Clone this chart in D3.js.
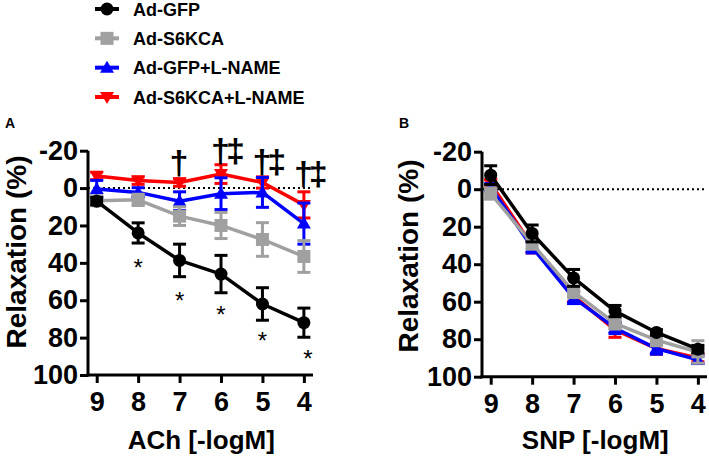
<!DOCTYPE html>
<html>
<head>
<meta charset="utf-8">
<script src="https://cdn.jsdelivr.net/npm/d3@7"></script>
<style>
  html, body { margin: 0; padding: 0; background: #fff; }
  svg { display: block; font-family: "Liberation Sans", Arial, sans-serif; }
</style>
</head>
<body>
<svg id="chart" width="709" height="457"></svg>
<script>
// ---------- data ----------
const xTicks = [9, 8, 7, 6, 5, 4];
const yTicks = [-20, 0, 20, 40, 60, 80, 100];
const seriesNames = ["Ad-GFP", "Ad-S6KCA", "Ad-GFP+L-NAME", "Ad-S6KCA+L-NAME"];

// Panel A: ACh
const achGFP      = [7, 24, 38.7, 46, 62, 72];
const achGFPErr   = [2, 5.4, 8.7, 10, 8.7, 7.8];
const achS6       = [6.8, 6.3, 15, 20, 27.5, 36.6];
const achS6Err    = [2, 3, 5, 7, 9, 8.5];
const achGFPL     = [0.5, 2.3, 7, 3, 2.3, 19];
const achGFPLErr  = [4.6, 2.5, 5, 8.5, 8, 11];
const achS6L      = [-6.5, -4, -3, -7.5, -3, 9];
const achS6LErr   = [2, 2, 2, 5, 3, 7];

// Panel B: SNP
const snpGFP      = [-7.5, 23.6, 47.3, 65, 76.4, 85.3];
const snpGFPErr   = [5, 4.5, 4.5, 3, 1.5, 2];
const snpS6       = [2.3, 29, 54.8, 71.6, 80.5, 86.8];
const snpS6Err    = [3, 3, 3, 3, 3, 6];
const snpGFPL     = [-1, 31, 58, 74, 85, 91];
const snpGFPLErr  = [2, 3, 3, 3, 3, 2];
const snpS6L      = [-3, 30, 57, 75, 85, 90];
const snpS6LErr   = [2, 4, 3, 4, 3, 2];

// significance marks (panel A)
const starX   = [8, 7, 6, 5, 4];
const starY   = [40, 58, 65, 79.4, 88.6];
const daggerX = [7, 6, 5, 4];
const daggerY = [-13.8, -20.5, -14.6, -8.2];
const ddaggerX = [6, 5, 4];

// ---------- styles ----------
const colors = ["#000000", "#a0a0a0", "#0000ff", "#ff0000"];
const shapes = ["circle", "square", "up", "down"];
const FONT = '"Liberation Sans", Arial, sans-serif';

const svg = d3.select("#chart");

function marker(g, shape, color, x, y) {
  if (shape === "circle") {
    g.append("circle").attr("cx", x).attr("cy", y).attr("r", 6.5).attr("fill", color);
  } else if (shape === "square") {
    g.append("rect").attr("x", x - 6.5).attr("y", y - 6.5).attr("width", 13).attr("height", 13).attr("fill", color);
  } else if (shape === "up") {
    g.append("path").attr("d", `M${x},${y - 7} L${x + 7},${y + 5} L${x - 7},${y + 5} Z`).attr("fill", color);
  } else {
    g.append("path").attr("d", `M${x},${y + 7} L${x + 7},${y - 5} L${x - 7},${y - 5} Z`).attr("fill", color);
  }
}

function drawPanel(opt) {
  const x = d3.scaleLinear().domain([9.21, 3.78]).range([opt.x0, opt.x1]);
  const y = d3.scaleLinear().domain([-20, 100]).range([opt.yTop, opt.yBot]);
  const g = svg.append("g");

  // zero dotted line
  g.append("line")
    .attr("x1", opt.x0).attr("x2", opt.x1)
    .attr("y1", y(0)).attr("y2", y(0))
    .attr("stroke", "#000").attr("stroke-width", 2)
    .attr("stroke-dasharray", "2,3");

  // series (black on top)
  for (let s = opt.series.length - 1; s >= 0; s--) {
    const vals = opt.series[s], errs = opt.errors[s];
    const color = colors[s];
    const sg = g.append("g");
    const line = d3.line().x((d, i) => x(xTicks[i])).y(d => y(d));
    sg.append("path").datum(vals).attr("d", line)
      .attr("fill", "none").attr("stroke", color).attr("stroke-width", 3.5)
      .attr("stroke-linejoin", "round");
    vals.forEach((v, i) => {
      const cx = x(xTicks[i]);
      const top = y(v - errs[i]), bot = y(v + errs[i]);
      sg.append("line").attr("x1", cx).attr("x2", cx).attr("y1", top).attr("y2", bot)
        .attr("stroke", color).attr("stroke-width", 3);
      [top, bot].forEach(yy => sg.append("line")
        .attr("x1", cx - 6.5).attr("x2", cx + 6.5).attr("y1", yy).attr("y2", yy)
        .attr("stroke", color).attr("stroke-width", 3));
      marker(sg, shapes[s], color, cx, y(v));
    });
  }

  // axes
  const yAxis = d3.axisLeft(y).tickValues(yTicks).tickFormat(d => String(d))
    .tickSize(8).tickPadding(2).tickSizeOuter(0);
  const ya = g.append("g").attr("transform", `translate(${opt.x0},0)`).call(yAxis);
  const xAxis = d3.axisBottom(x).tickValues(xTicks).tickFormat(d => String(d))
    .tickSize(8).tickPadding(9).tickSizeOuter(0);
  const xa = g.append("g").attr("transform", `translate(0,${opt.yBot})`).call(xAxis);
  [ya, xa].forEach(a => {
    a.select(".domain").attr("stroke", "#000").attr("stroke-width", 3);
    a.selectAll(".tick line").attr("stroke", "#000").attr("stroke-width", 3);
    a.selectAll(".tick text").attr("fill", "#000")
      .style("font-family", FONT).style("font-weight", "bold").style("font-size", "27px");
  });
  ya.select(".domain").attr("d", `M0,${opt.yTop}V${opt.yBot + 1.5}`);
  xa.select(".domain").attr("d", `M${opt.x0 - 1.5},0H${opt.x1}`);

  // titles
  g.append("text")
    .attr("transform", `translate(${opt.yTitleX},${opt.yTitleY}) rotate(-90)`)
    .attr("text-anchor", "middle").attr("dy", "0.35em")
    .style("font-family", FONT).style("font-weight", "bold").style("font-size", "28px")
    .text("Relaxation (%)");
  g.append("text")
    .attr("x", (x(9) + x(4)) / 2 + 1).attr("y", 449)
    .attr("text-anchor", "middle")
    .style("font-family", FONT).style("font-weight", "bold").style("font-size", "26px")
    .text(opt.xTitle);
  g.append("text")
    .attr("x", opt.letterX).attr("y", 128)
    .style("font-family", FONT).style("font-weight", "bold").style("font-size", "14px")
    .text(opt.letter);

  return {x, y, g};
}

const A = drawPanel({
  x0: 88, x1: 313, yTop: 150.7, yBot: 375,
  series: [achGFP, achS6, achGFPL, achS6L],
  errors: [achGFPErr, achS6Err, achGFPLErr, achS6LErr],
  xTitle: "ACh [-logM]", letter: "A", letterX: 5, yTitleX: 16, yTitleY: 252
});
const B = drawPanel({
  x0: 482, x1: 707, yTop: 151.7, yBot: 376.7,
  series: [snpGFP, snpS6, snpGFPL, snpS6L],
  errors: [snpGFPErr, snpS6Err, snpGFPLErr, snpS6LErr],
  xTitle: "SNP [-logM]", letter: "B", letterX: 399, yTitleX: 408, yTitleY: 256
});

// significance marks
starX.forEach((v, i) => {
  A.g.append("text")
    .attr("x", A.x(v) + (v === 4 ? 4 : 0)).attr("y", A.y(starY[i]) + 13)
    .attr("text-anchor", "middle")
    .style("font-family", FONT).style("font-size", "24px")
    .text("*");
});
daggerX.forEach((v, i) => {
  A.g.append("text")
    .attr("x", A.x(v) - 10).attr("y", A.y(daggerY[i]) + 12)
    .attr("text-anchor", "start")
    .attr("letter-spacing", "-4")
    .style("font-family", FONT).style("font-weight", "bold").style("font-size", "34px")
    .text("†" + (ddaggerX.includes(v) ? "‡" : ""));
});

// legend
const legend = svg.append("g");
const legendY = d3.scalePoint().domain(seriesNames).range([9, 97]);
seriesNames.forEach((name, s) => {
  const cy = legendY(name);
  legend.append("line").attr("x1", 95).attr("x2", 119).attr("y1", cy).attr("y2", cy)
    .attr("stroke", colors[s]).attr("stroke-width", 4);
  marker(legend, shapes[s], colors[s], 107, cy);
  legend.append("text").attr("x", 133).attr("y", cy + 6.5)
    .style("font-family", FONT).style("font-weight", "bold").style("font-size", "18px")
    .text(name);
});
</script>
</body>
</html>
